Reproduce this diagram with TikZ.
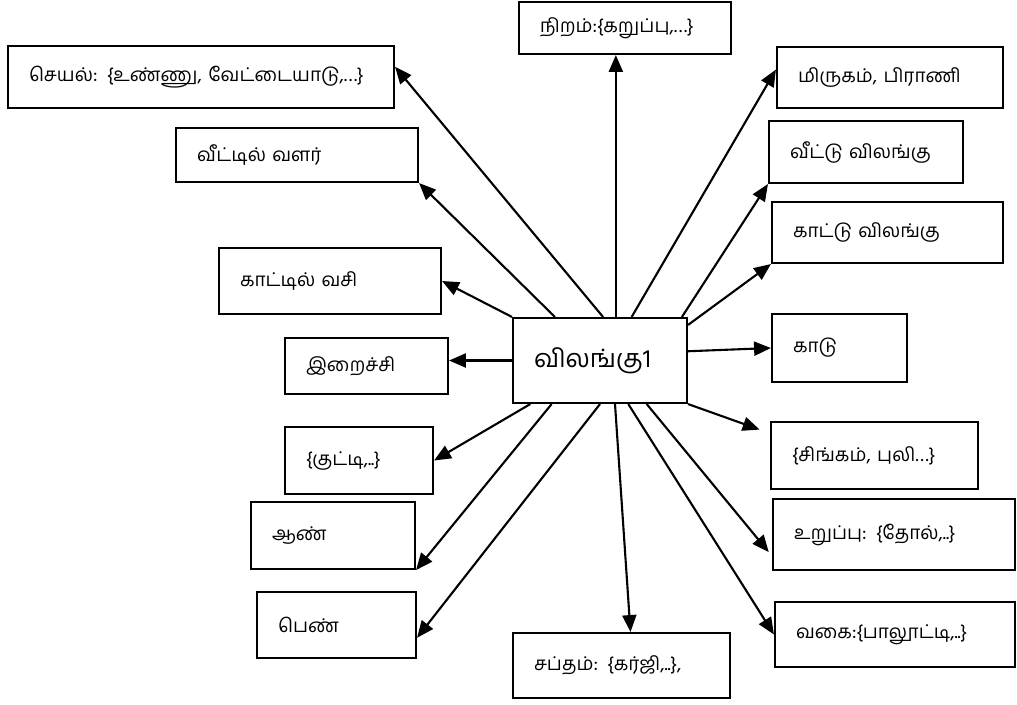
\documentclass[tikz,border=0pt]{standalone}
\usepackage{fontspec}
\setmainfont[Script=Tamil]{Hind Madurai}
\usetikzlibrary{arrows.meta}

% one drawing unit
\newlength\px
\setlength\px{0.025cm}

\tikzset{
  box/.style={draw, rectangle, line width=1.5pt, inner xsep=21\px, inner ysep=0pt, align=left, font=\fontsize{13.5}{16}\selectfont},
  link/.style={line width=1.5pt, -{Triangle[length=12pt, width=10pt]}}
}

\begin{document}
\begin{tikzpicture}[x=1\px, y=-1\px]
      \useasboundingbox (0,0) rectangle (1017,704);

      % centre
      \node[box, text width=132\px, minimum height=85\px, font=\fontsize{18}{21}\selectfont] (hub) at (600,360.5) {விலங்கு1};

      % left side
      \node[box, text width=344\px, minimum height=62\px] (seyal) at (201,77) {செயல்: \{உண்ணு, வேட்டையாடு,…\}};
      \node[box, text width=200\px, minimum height=54\px] (veettil) at (297,155) {வீட்டில் வளர்};
      \node[box, text width=180\px, minimum height=66\px] (kaattil) at (330,281) {காட்டில் வசி};
      \node[box, text width=121\px, minimum height=56\px] (iraichi) at (366.5,366) {இறைச்சி};
      \node[box, text width=106\px, minimum height=67\px] (kutti) at (359,460.5) {\{குட்டி,..\}};
      \node[box, text width=122\px, minimum height=67\px] (aan) at (333,535.5) {ஆண்};
      \node[box, text width=117\px, minimum height=66\px] (pen) at (336.5,625) {பெண்};

      % top and bottom
      \node[box, text width=170\px, minimum height=52\px] (niram) at (625,28) {நிறம்:\{கறுப்பு,…\}};
      \node[box, text width=175\px, minimum height=65\px] (saptham) at (621.5,665.5) {சப்தம்: \{கர்ஜி,..\},};

      % right side
      \node[box, text width=184\px, minimum height=61\px] (mirugam) at (890,77.5) {மிருகம், பிராணி};
      \node[box, text width=152\px, minimum height=62\px] (veettu) at (866,152) {வீட்டு விலங்கு};
      \node[box, text width=189\px, minimum height=61\px] (kaattu) at (887.5,232.5) {காட்டு விலங்கு};
      \node[box, text width=93\px, minimum height=68\px] (kaadu) at (839.5,348) {காடு};
      \node[box, text width=165\px, minimum height=67\px] (singam) at (874.5,455.5) {\{சிங்கம், புலி…\}};
      \node[box, text width=200\px, minimum height=71\px] (uruppu) at (894,534.5) {உறுப்பு: \{தோல்,..\}};
      \node[box, text width=198\px, minimum height=65\px] (vagai) at (895,634.5) {வகை:\{பாலூட்டி,..\}};

      \draw[link] (hub.north west) -- (kaattil.east);
      \draw[link] (hub.136.6) -- (veettil.south east);
      \draw[link] (hub.86) -- (seyal.3);
      \draw[link] (hub.70.6) -- (hub.70.6 |- niram.south);
      \draw[link] (hub.54.8) -- (mirugam.176);
      \draw[link] (hub.28.6) -- (veettu.south west);
      \draw[link] (hub.22.2) -- (kaattu.south west);
      \draw[link] (hub.6.9) -- (kaadu.west);
      \draw[link, shorten >=11\px] (hub.south east) -- (singam.168);
      \draw[link, shorten >=5\px] (hub.317.9) -- (uruppu.190);
      \draw[link] (hub.303.4) -- (vagai.west);
      \draw[link] (hub.289.4) -- (saptham.75);
      \draw[link] (hub.south) -- (pen.-9);
      \draw[link] (hub.222.1) -- (aan.south east);
      \draw[link] (hub.212.4) -- (kutti.east);
      \draw[link] (hub.west) -- (hub.west -| iraichi.east);
    \end{tikzpicture}
\end{document}
